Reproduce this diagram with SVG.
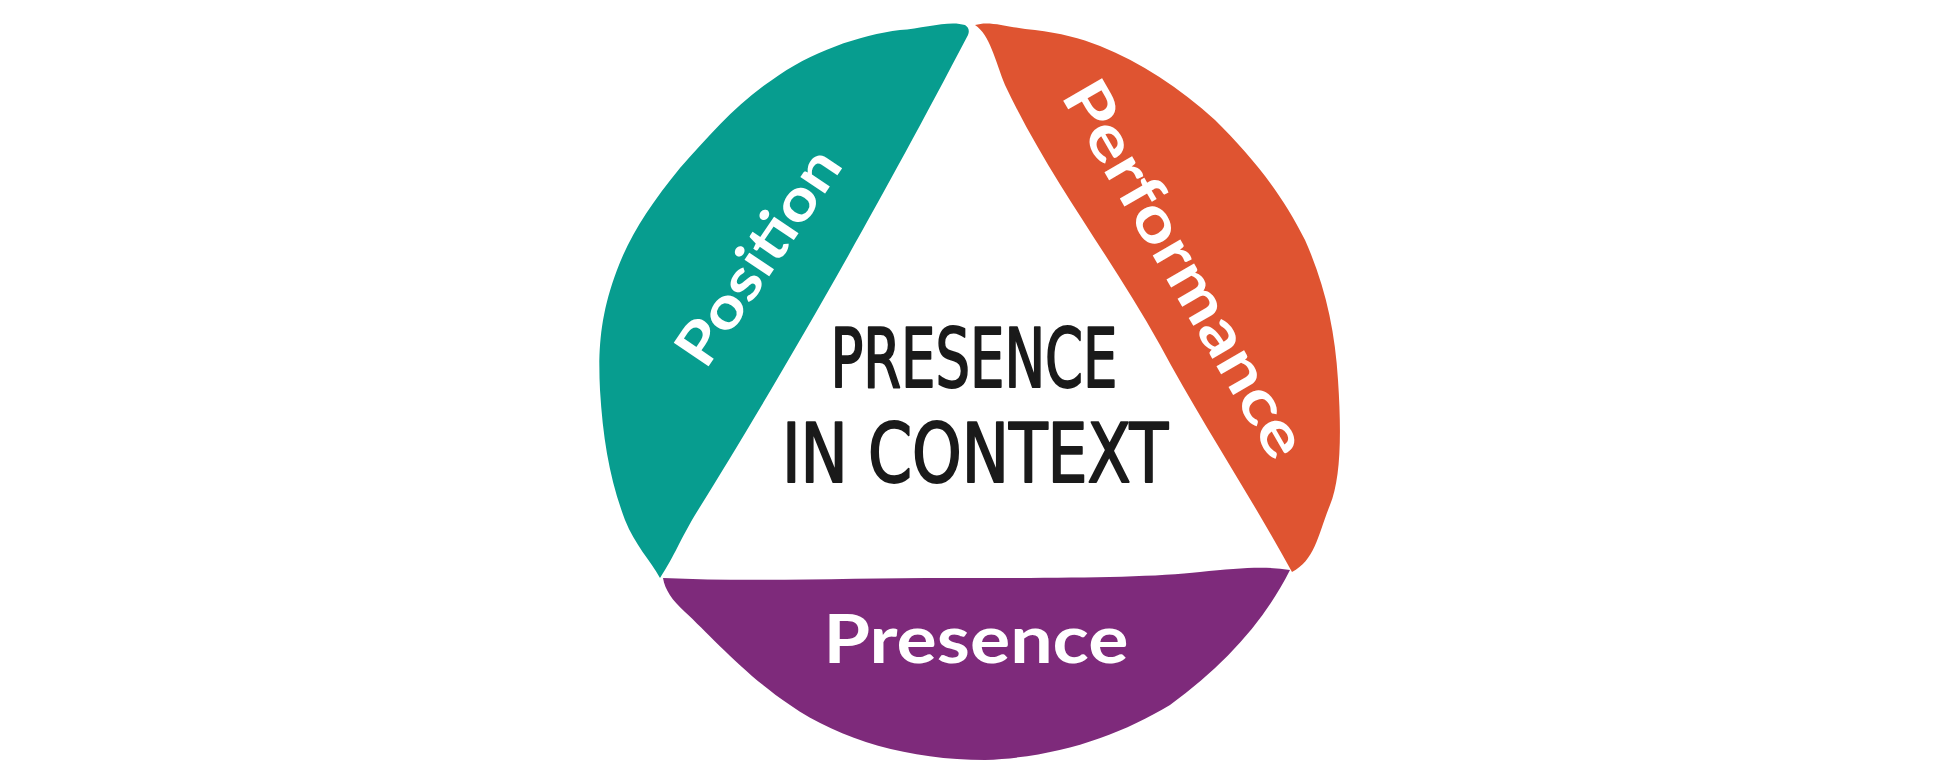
<svg xmlns="http://www.w3.org/2000/svg" width="1950" height="775" viewBox="0 0 1950 775">
<style>
.band-label{font-family:"Lato","Open Sans","Liberation Sans",sans-serif;font-weight:700;fill:#ffffff;}
.center-label{font-family:"Liberation Sans Narrow","DejaVu Sans Condensed","Liberation Sans",sans-serif;font-weight:400;fill:#1a1a1a;stroke:#1a1a1a;stroke-width:2;stroke-linejoin:round;}
</style>
<rect width="1950" height="775" fill="#ffffff"/>
<g id="connectors"/>
<g id="position">
<path fill="#079d8f" d="M 965,25 C 950,20 925,28 900,30 C 860,35 810,52 772,80 C 735,105 710,135 680,168 C 650,205 630,235 617,270 C 600,315 598,350 600,390 C 603,440 610,480 625,520 C 635,545 650,560 660,578 C 675,555 680,540 695,515 C 760,410 850,260 968,35 C 970,30 968,27 965,25 Z"/>
<text class="band-label" font-size="58" text-anchor="middle" textLength="248" lengthAdjust="spacingAndGlyphs" x="0" y="18" transform="translate(760,258) rotate(-56)">Position</text>
</g>
<g id="performance">
<path fill="#df5431" d="M 975,25 C 990,20 1010,28 1035,30 C 1060,33 1080,38 1100,46 C 1140,62 1180,88 1215,120 C 1250,155 1280,190 1305,240 C 1325,285 1335,330 1338,380 C 1342,440 1340,480 1330,505 C 1318,535 1315,560 1292,572 C 1250,495 1200,420 1160,345 C 1110,255 1050,180 1005,85 C 995,60 990,35 975,25 Z"/>
<text class="band-label" font-size="62" text-anchor="middle" textLength="425" lengthAdjust="spacingAndGlyphs" x="0" y="19" transform="translate(1183,270) rotate(60)">Performance</text>
</g>
<g id="presence">
<path fill="#7e2a7b" d="M 663,578 C 750,582 850,578 950,578 C 1050,578 1150,578 1200,572 C 1240,568 1265,566 1290,570 C 1265,620 1225,665 1170,705 C 1120,735 1060,757 985,760 C 910,760 840,740 790,705 C 745,675 710,635 685,612 C 672,600 665,590 663,578 Z"/>
<text class="band-label" font-size="66" text-anchor="middle" textLength="305" lengthAdjust="spacingAndGlyphs" x="976" y="663">Presence</text>
</g>
<g id="presence-in-context">
<text class="center-label" font-size="82" text-anchor="middle" textLength="287" lengthAdjust="spacingAndGlyphs" x="974" y="387">PRESENCE</text>
<text class="center-label" font-size="82" text-anchor="middle" textLength="386" lengthAdjust="spacingAndGlyphs" x="975" y="482">IN CONTEXT</text>
</g>
</svg>
